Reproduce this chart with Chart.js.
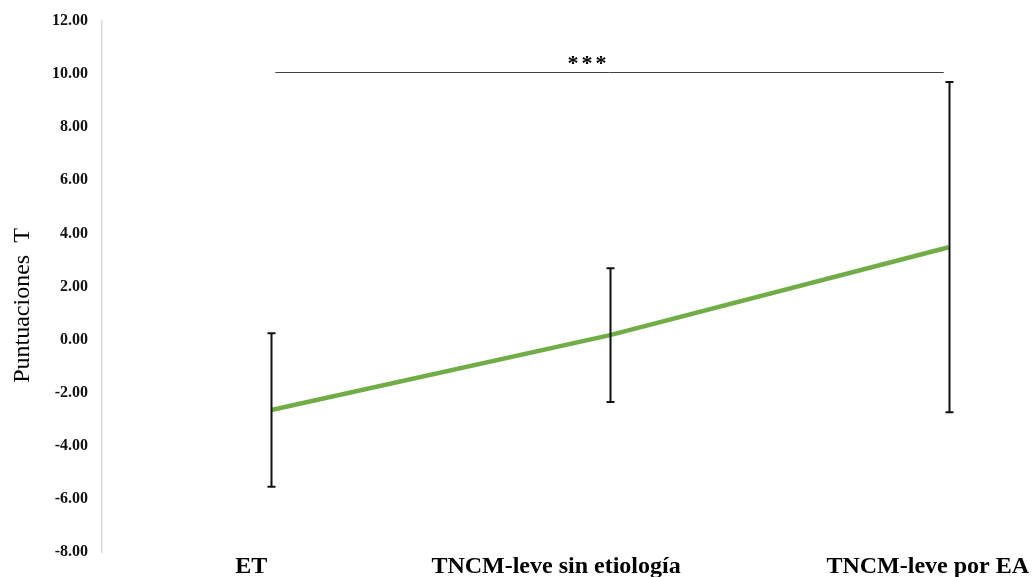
<!DOCTYPE html>
<html>
<head>
<meta charset="utf-8">
<script src="https://cdn.jsdelivr.net/npm/chart.js@4.4.1/dist/chart.umd.min.js"></script>
<style>
  html, body { margin: 0; padding: 0; background: #ffffff; }
  #wrap { width: 1036px; height: 577px; position: relative; }
</style>
</head>
<body>
<div id="wrap"><canvas id="c"></canvas></div>
<script>
// Group means and their error-bar half lengths (T scores)
const categories = ['ET', 'TNCM-leve sin etiología', 'TNCM-leve por EA'];
const means = [-2.65, 0.17, 3.48];
const errors = [2.89, 2.52, 6.22];
const yTicks = [-8, -6, -4, -2, 0, 2, 4, 6, 8, 10, 12];
const yTitle = 'Puntuaciones  T';
// Significance bracket between the first and last group
const sigFrom = 0;
const sigTo = 2;
const sigLevel = 10.09;
const sigLabel = '***';

const SERIF = '"Liberation Serif", "Times New Roman", serif';

// Horizontal nudges (px) applied to the category labels under the axis
const labelNudge = [-20, -54, -21];

const errorBars = {
  id: 'errorBars',
  afterDatasetsDraw(chart) {
    const { ctx, scales: { x, y } } = chart;
    ctx.save();
    ctx.strokeStyle = '#111111';
    ctx.lineWidth = 2;
    const cap = 4;
    means.forEach((m, i) => {
      const px = Math.round(x.getPixelForValue(i)) + 0.5;
      const top = y.getPixelForValue(m + errors[i]);
      const bot = y.getPixelForValue(m - errors[i]);
      ctx.beginPath();
      ctx.moveTo(px, top); ctx.lineTo(px, bot);
      ctx.moveTo(px - cap, top); ctx.lineTo(px + cap, top);
      ctx.moveTo(px - cap, bot); ctx.lineTo(px + cap, bot);
      ctx.stroke();
    });
    ctx.restore();
  }
};

const bracket = {
  id: 'bracket',
  afterDraw(chart) {
    const { ctx, scales: { x, y } } = chart;
    const py = Math.round(y.getPixelForValue(sigLevel)) + 0.5;
    const x0 = x.getPixelForValue(sigFrom) + 4;
    const x1 = x.getPixelForValue(sigTo) - 5;
    ctx.save();
    ctx.strokeStyle = '#404040';
    ctx.lineWidth = 1;
    ctx.beginPath();
    ctx.moveTo(x0, py); ctx.lineTo(x1, py);
    ctx.stroke();
    ctx.fillStyle = '#000000';
    ctx.font = 'bold 22px ' + SERIF;
    ctx.letterSpacing = '3px';
    ctx.textAlign = 'center';
    ctx.textBaseline = 'alphabetic';
    ctx.fillText(sigLabel, (x0 + x1) / 2 - 21, py - 3);
    ctx.restore();
  }
};

// Category names under the plot and the rotated y-axis title
const axisText = {
  id: 'axisText',
  afterDraw(chart) {
    const { ctx, scales: { x }, chartArea } = chart;
    ctx.save();
    ctx.fillStyle = '#000000';
    ctx.font = 'bold 24px ' + SERIF;
    ctx.textAlign = 'center';
    ctx.textBaseline = 'alphabetic';
    categories.forEach((c, i) => {
      ctx.fillText(c, x.getPixelForValue(i) + labelNudge[i], chartArea.bottom + 21);
    });
    ctx.translate(23, (chartArea.top + chartArea.bottom) / 2 + 19);
    ctx.rotate(-Math.PI / 2);
    ctx.font = '24px ' + SERIF;
    ctx.textBaseline = 'middle';
    ctx.fillText(yTitle, 0, 0);
    ctx.restore();
  }
};

new Chart(document.getElementById('c'), {
  type: 'line',
  data: {
    datasets: [{
      label: yTitle,
      data: means.map((m, i) => ({ x: i, y: m })),
      borderColor: '#70AD47',
      borderWidth: 4.5,
      pointRadius: 0,
      tension: 0,
      fill: false
    }]
  },
  options: {
    responsive: true,
    maintainAspectRatio: false,
    animation: false,
    layout: { padding: { top: 21, right: 6, bottom: 25, left: 0 } },
    plugins: { legend: { display: false }, tooltip: { enabled: false } },
    scales: {
      x: {
        type: 'linear',
        min: -0.5,
        max: 2.24,
        display: false
      },
      y: {
        min: yTicks[0],
        max: yTicks[yTicks.length - 1],
        afterBuildTicks(scale) { scale.ticks = yTicks.map(v => ({ value: v })); },
        afterFit(scale) { scale.width = 102; },
        grid: { display: false, drawTicks: true, tickLength: 14 },
        border: { display: true, color: '#d9d9d9', width: 1.5 },
        ticks: {
          padding: 0,
          color: '#111111',
          font: { family: SERIF, size: 16, weight: 'bold' },
          callback: v => Number(v).toFixed(2)
        },
        title: { display: false }
      }
    }
  },
  plugins: [errorBars, bracket, axisText]
});
</script>
</body>
</html>
